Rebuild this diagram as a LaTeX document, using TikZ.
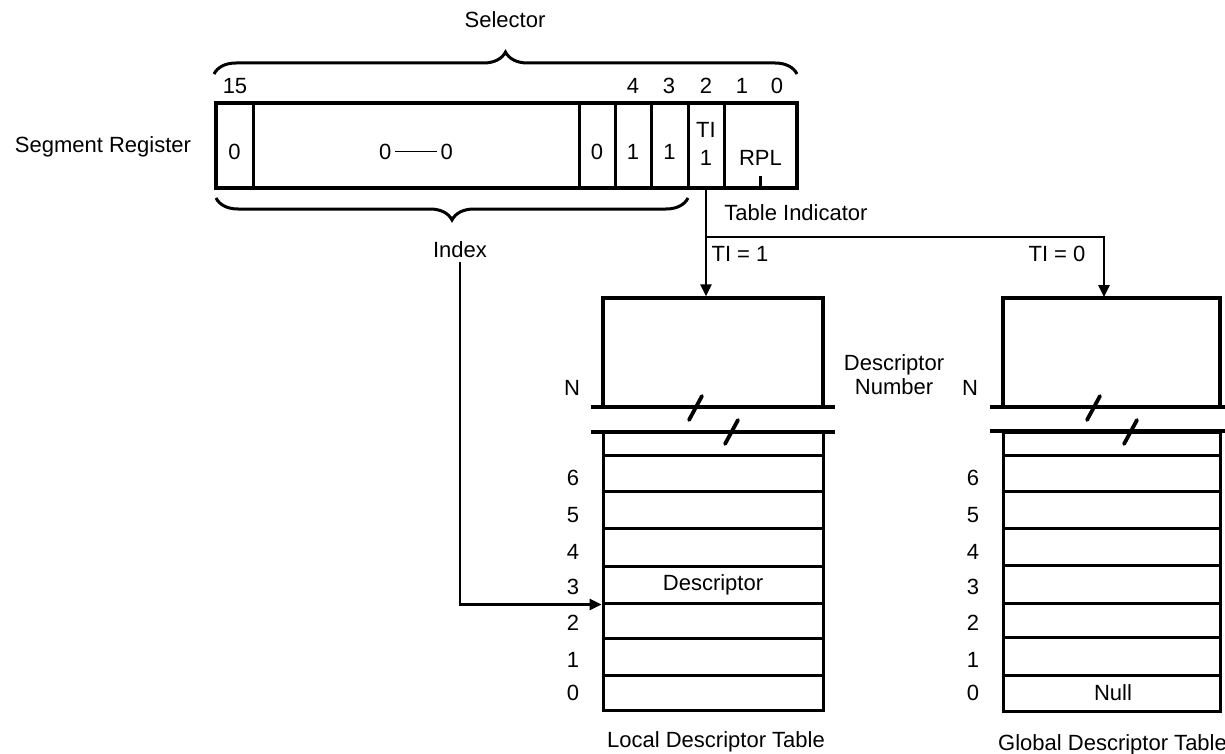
\documentclass[tikz,border=0pt]{standalone}
\usepackage{fontspec}
\setmainfont{Liberation Sans}
\usetikzlibrary{arrows.meta,decorations.pathreplacing}
\begin{document}
\begin{tikzpicture}[x=1pt,y=-1pt,
  every node/.style={font=\fontsize{22}{26}\selectfont, inner sep=0pt},
  cell/.style={draw, line width=3pt, minimum height=85},
  regbox/.style={draw, line width=4.5pt, minimum height=85, minimum width=581},
  tabrow/.style={draw, line width=3pt},
  tabtop/.style={draw, line width=3.5pt},
  conn/.style={line width=2.6pt},
  arr/.style={conn, -{Triangle[length=12pt,width=11pt]}},
  brk/.style={line width=4.5pt},
  slash/.style={line width=3.8pt, line cap=round},
  brc/.style={line width=3pt, decorate, decoration={brace, amplitude=22pt}},
]
\useasboundingbox (0,0) rectangle (1225,754);
\fill[white] (0,0) rectangle (1225,754);

% ---------- segment register ----------
\node[anchor=center] (segreg) at (103,147) {Segment Register};
\node[cell, minimum width=37]  (c15)  at (234.5,145.5) {};
\node[cell, minimum width=326] (cmid) at (416,145.5) {};
\node[cell, minimum width=36]  (b5)   at (597,145.5) {};
\node[cell, minimum width=36]  (b4)   at (633,145.5) {};
\node[cell, minimum width=37]  (b3)   at (669.5,145.5) {};
\node[cell, minimum width=36]  (ti)   at (706,145.5) {};
\node[cell, minimum width=73]  (rpl)  at (760.5,145.5) {};
\node[regbox] (reg) at (506.5,145.5) {};

\node (t15)  at (234.5,152) {0};
\node (tmid) at (416,152) {0\,\raisebox{0.33em}{\rule{42pt}{1.6pt}}\,0};
\node (t5)   at (597,152) {0};
\node (t4)   at (633,152) {1};
\node (t3)   at (669.5,152) {1};
\node (tti)  at (706,130) {TI};
\node (tti1) at (706,158) {1};
\node (trpl) at (760.5,158) {RPL};
\draw[line width=2.2pt] (rpl.south) ++(0,-1) coordinate (rpltick) -- ++(0,-12);

% bit numbers
\node (n15) at (235,86) {15};
\node (n4)  at (633,86) {4};
\node (n3)  at (669,86) {3};
\node (n2)  at (706,86) {2};
\node (n1)  at (742,86) {1};
\node (n0)  at (777,86) {0};

% braces
\draw[brc] (214,74) -- (797,74);
\node (selector) at (505,20) {Selector};
\draw[brc] (688,198) -- (216,198);
\node (index) at (460,250) {Index};

% ---------- local descriptor table ----------
\node[tabtop, minimum width=220, minimum height=109] (ldttop) at (713,352.5) {};
\foreach \n/\a/\b in {7/432/455,6/455/491,5/491/528,4/528/566,3/566/603,2/603/638,1/638/675,0/675/710}{
  \node[tabrow, minimum width=220, minimum height={\b-\a}] (ldt\n) at (713,{(\a+\b)/2}) {};
}
\foreach \n/\y in {6/478,5/515,4/552,3/587,2/623,1/660,0/693}{
  \node (ll\n) at (573,\y) {\n};
}
\node (descr) at (713,585) {Descriptor};
\draw[brk] (591,407) -- (835,407);
\draw[brk] (591,432) -- (835,432);
\draw[slash] (689,420) -- (702,396);
\draw[slash] (725,444) -- (738,420);
\node (ln) at (572,388) {N};
\node[align=center] (descnum) at (894,375) {Descriptor\\[-2pt]Number};
\node (ldtcap) at (716,742) {Local Descriptor Table};

% ---------- global descriptor table ----------
\node[tabtop, minimum width=217, minimum height=109] (gdttop) at (1111.5,352.5) {};
\foreach \n/\a/\b in {7/432/455,6/455/491,5/491/528,4/528/565,3/565/603,2/603/637,1/637/675,0/675/711}{
  \node[tabrow, minimum width=217, minimum height={\b-\a}] (gdt\n) at (1111.5,{(\a+\b)/2}) {};
}
\foreach \n/\y in {6/478,5/515,4/552,3/587,2/623,1/660,0/693}{
  \node (gl\n) at (973,\y) {\n};
}
\node (null) at (1113,693) {Null};
\draw[brk] (990,407) -- (1235,407);
\draw[brk] (990,431) -- (1235,431);
\draw[slash] (1087,420) -- (1100,396);
\draw[slash] (1124,444) -- (1137,420);
\node (gn) at (970,388) {N};
\node[anchor=west] (gdtcap) at (998,745) {Global Descriptor Table};

% ---------- connectors ----------
\node (tabind) at (796,213) {Table Indicator};
\node (ti1) at (740,254) {TI = 1};
\node (ti0) at (1057,254) {TI = 0};
\coordinate (branch) at (706,237);
\coordinate (gdtin) at (1104,297);
\draw[arr] (ti.south) -- (ti.south |- ldttop.north);
\draw[arr] (branch) -| (gdtin);
\draw[arr, shorten <=4pt] (index.south) |- (ldt3.south west);
\end{tikzpicture}
\end{document}
